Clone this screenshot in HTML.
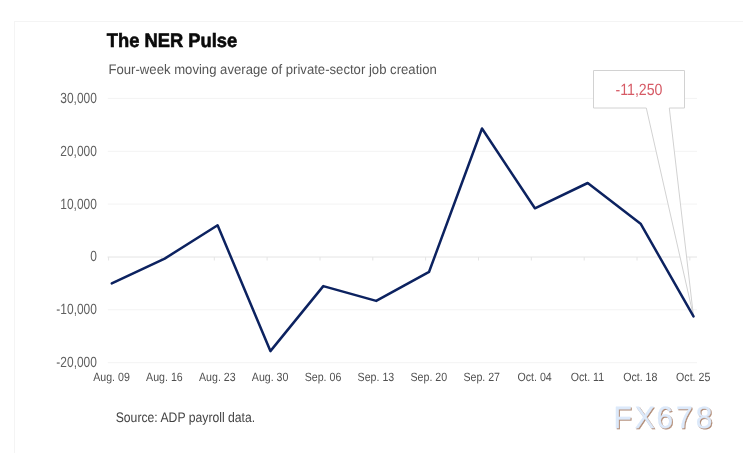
<!DOCTYPE html>
<html lang="en">
<head>
<meta charset="utf-8">
<title>The NER Pulse</title>
<style>
html,body{margin:0;padding:0;background:#fff;}
body{width:743px;height:453px;overflow:hidden;font-family:"Liberation Sans",sans-serif;}
svg{display:block;}
text{font-family:"Liberation Sans",sans-serif;text-rendering:geometricPrecision;}
</style>
</head>
<body>
<svg width="743" height="453" viewBox="0 0 743 453">
<defs>
<filter id="wm" x="-10%" y="-20%" width="120%" height="150%" color-interpolation-filters="sRGB">
<feGaussianBlur in="SourceAlpha" stdDeviation="0.5" result="b"/>
<feOffset in="b" dx="1" dy="1" result="o"/>
<feFlood flood-color="#b08a74" flood-opacity="1" result="c"/>
<feComposite in="c" in2="o" operator="in" result="s"/>
<feMerge><feMergeNode in="s"/><feMergeNode in="SourceGraphic"/></feMerge>
</filter>
</defs>
<rect x="0" y="0" width="743" height="453" fill="#ffffff"/>
<line x1="14" x2="743" y1="21.5" y2="21.5" stroke="#f4f4f4" stroke-width="1"/>
<line x1="14.5" x2="14.5" y1="21" y2="453" stroke="#f4f4f4" stroke-width="1"/>
<line x1="107.8" x2="697" y1="98.4" y2="98.4" stroke="#f3f3f3" stroke-width="1"/>
<line x1="107.8" x2="697" y1="151.3" y2="151.3" stroke="#f3f3f3" stroke-width="1"/>
<line x1="107.8" x2="697" y1="204.1" y2="204.1" stroke="#f3f3f3" stroke-width="1"/>
<line x1="107.5" x2="697" y1="257.0" y2="257.0" stroke="#e4e4e4" stroke-width="1"/>
<line x1="107.8" x2="697" y1="309.8" y2="309.8" stroke="#f3f3f3" stroke-width="1"/>
<line x1="107.8" x2="697" y1="362.7" y2="362.7" stroke="#f3f3f3" stroke-width="1"/>
<line x1="108.6" x2="108.6" y1="257.0" y2="260.5" stroke="#e4e4e4" stroke-width="1"/>
<line x1="161.4" x2="161.4" y1="257.0" y2="260.5" stroke="#e4e4e4" stroke-width="1"/>
<line x1="214.3" x2="214.3" y1="257.0" y2="260.5" stroke="#e4e4e4" stroke-width="1"/>
<line x1="267.1" x2="267.1" y1="257.0" y2="260.5" stroke="#e4e4e4" stroke-width="1"/>
<line x1="320.0" x2="320.0" y1="257.0" y2="260.5" stroke="#e4e4e4" stroke-width="1"/>
<line x1="372.8" x2="372.8" y1="257.0" y2="260.5" stroke="#e4e4e4" stroke-width="1"/>
<line x1="425.6" x2="425.6" y1="257.0" y2="260.5" stroke="#e4e4e4" stroke-width="1"/>
<line x1="478.5" x2="478.5" y1="257.0" y2="260.5" stroke="#e4e4e4" stroke-width="1"/>
<line x1="531.3" x2="531.3" y1="257.0" y2="260.5" stroke="#e4e4e4" stroke-width="1"/>
<line x1="584.2" x2="584.2" y1="257.0" y2="260.5" stroke="#e4e4e4" stroke-width="1"/>
<line x1="637.0" x2="637.0" y1="257.0" y2="260.5" stroke="#e4e4e4" stroke-width="1"/>
<line x1="689.8" x2="689.8" y1="257.0" y2="260.5" stroke="#e4e4e4" stroke-width="1"/>
<text x="106.8" y="47" font-size="19.4" font-weight="bold" fill="#0a0a0a" stroke="#0a0a0a" stroke-width="0.6" textLength="130.3" lengthAdjust="spacingAndGlyphs">The NER Pulse</text>
<text x="108.5" y="74" font-size="13.8" fill="#555" textLength="328.3" lengthAdjust="spacingAndGlyphs">Four-week moving average of private-sector job creation</text>
<text transform="translate(96.9,103.0) scale(0.808,1)" font-size="14.8" text-anchor="end" fill="#606060">30,000</text>
<text transform="translate(96.9,156.0) scale(0.808,1)" font-size="14.8" text-anchor="end" fill="#606060">20,000</text>
<text transform="translate(96.9,209.0) scale(0.808,1)" font-size="14.8" text-anchor="end" fill="#606060">10,000</text>
<text transform="translate(96.9,261.0) scale(0.808,1)" font-size="14.8" text-anchor="end" fill="#606060">0</text>
<text transform="translate(96.9,314.0) scale(0.808,1)" font-size="14.8" text-anchor="end" fill="#606060">-10,000</text>
<text transform="translate(96.9,367.0) scale(0.808,1)" font-size="14.8" text-anchor="end" fill="#606060">-20,000</text>
<text transform="translate(111.5,381.0) scale(0.885,1)" font-size="12" text-anchor="middle" fill="#505050">Aug. 09</text>
<text transform="translate(164.4,381.0) scale(0.885,1)" font-size="12" text-anchor="middle" fill="#505050">Aug. 16</text>
<text transform="translate(217.3,381.0) scale(0.885,1)" font-size="12" text-anchor="middle" fill="#505050">Aug. 23</text>
<text transform="translate(270.1,381.0) scale(0.885,1)" font-size="12" text-anchor="middle" fill="#505050">Aug. 30</text>
<text transform="translate(323.0,381.0) scale(0.885,1)" font-size="12" text-anchor="middle" fill="#505050">Sep. 06</text>
<text transform="translate(375.9,381.0) scale(0.885,1)" font-size="12" text-anchor="middle" fill="#505050">Sep. 13</text>
<text transform="translate(428.8,381.0) scale(0.885,1)" font-size="12" text-anchor="middle" fill="#505050">Sep. 20</text>
<text transform="translate(481.7,381.0) scale(0.885,1)" font-size="12" text-anchor="middle" fill="#505050">Sep. 27</text>
<text transform="translate(534.6,381.0) scale(0.885,1)" font-size="12" text-anchor="middle" fill="#505050">Oct. 04</text>
<text transform="translate(587.4,381.0) scale(0.885,1)" font-size="12" text-anchor="middle" fill="#505050">Oct. 11</text>
<text transform="translate(640.3,381.0) scale(0.885,1)" font-size="12" text-anchor="middle" fill="#505050">Oct. 18</text>
<text transform="translate(693.2,381.0) scale(0.885,1)" font-size="12" text-anchor="middle" fill="#505050">Oct. 25</text>
<polygon points="593.5,70.5 684.5,70.5 684.5,108 669.3,108 693.5,316.4 646.3,108 593.5,108" fill="#ffffff" stroke="#d2d2d2" stroke-width="1" stroke-linejoin="miter"/>
<text x="639" y="95" text-anchor="middle" font-size="16.2" fill="#d65a65" textLength="47" lengthAdjust="spacingAndGlyphs">-11,250</text>
<polyline points="111.8,283.4 164.7,258.6 217.6,225.3 270.4,351.1 323.3,286.1 376.2,300.9 429.1,271.8 482.0,128.5 534.9,208.3 587.7,183.0 640.6,223.7 693.5,316.4" fill="none" stroke="#0c2260" stroke-width="2.5" stroke-linejoin="round" stroke-linecap="round"/>
<text x="115.7" y="422" font-size="13.8" fill="#444" textLength="139.5" lengthAdjust="spacingAndGlyphs">Source: ADP payroll data.</text>
<g transform="translate(0,427.7) scale(1,1.028)"><text x="613.5 634.7 656.5 676.1 695.7" y="0" font-size="30" fill="#dce9fa" stroke="#dce9fa" stroke-width="0.3" filter="url(#wm)">FX678</text></g>
</svg>
</body>
</html>
